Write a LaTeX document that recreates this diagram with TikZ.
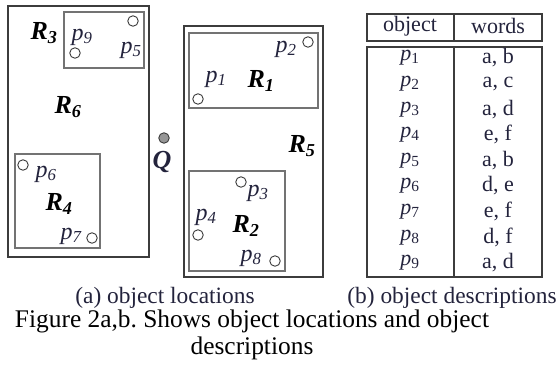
\documentclass[tikz,border=0pt]{standalone}
\usepackage{fontspec}
\setmainfont{Liberation Serif}
\usepackage{tikz}
\frenchspacing
\definecolor{boxink}{RGB}{60,60,60}
\definecolor{innerink}{RGB}{115,115,115}
\definecolor{labink}{RGB}{35,35,60}
\definecolor{qfill}{RGB}{150,150,150}

\tikzset{
  obj/.style={circle, draw=boxink, fill=white, line width=0.9pt, minimum size=10.5pt, inner sep=0pt},
  plab/.style={font=\fontsize{24}{26}\selectfont\itshape, text=labink, inner sep=0pt},
  rlab/.style={font=\fontsize{26}{28}\selectfont\bfseries\itshape, text=black, inner sep=0pt},
  cell/.style={font=\fontsize{22}{24}\selectfont, text=labink, inner sep=0pt},
  outerbox/.style={draw=boxink, line width=1.9pt},
  innerbox/.style={draw=innerink, line width=1.4pt},
}

\begin{document}
\begin{tikzpicture}[x=1pt, y=-1pt]
  \useasboundingbox (0,0) rectangle (559,375);

  % (a) object locations
  \draw[outerbox] (8,6) rectangle (149,257);
  \draw[innerbox] (64,12) rectangle (144,68);
  \draw[innerbox] (15,154) rectangle (100,248);
  \draw[outerbox] (184,26) rectangle (323,277);
  \draw[innerbox] (189,33) rectangle (318,108);
  \draw[innerbox] (189,171) rectangle (285,271);

  \node[obj] (c1) at (198,99) {};
  \node[obj] (c2) at (308,42) {};
  \node[obj] (c3) at (241,182) {};
  \node[obj] (c4) at (198,235) {};
  \node[obj] (c5) at (133,21) {};
  \node[obj] (c6) at (23,165) {};
  \node[obj] (c7) at (92,238) {};
  \node[obj] (c8) at (275,261) {};
  \node[obj] (c9) at (75,53) {};
  \node[obj, fill=qfill] (cq) at (164,138) {};

  \node[plab] (l1) at (216,79) {p\textsubscript{1}};
  \node[plab] (l2) at (286,49) {p\textsubscript{2}};
  \node[plab] (l3) at (258,193) {p\textsubscript{3}};
  \node[plab] (l4) at (206,217) {p\textsubscript{4}};
  \node[plab] (l5) at (131,50) {p\textsubscript{5}};
  \node[plab] (l6) at (46,174) {p\textsubscript{6}};
  \node[plab] (l7) at (71,236) {p\textsubscript{7}};
  \node[plab] (l8) at (251,258) {p\textsubscript{8}};
  \node[plab] (l9) at (82,37) {p\textsubscript{9}};

  \node[rlab] (r1) at (261,81) {R\textsubscript{1}};
  \node[rlab] (r2) at (246,226) {R\textsubscript{2}};
  \node[rlab] (r3) at (44,33) {R\textsubscript{3}};
  \node[rlab] (r4) at (59,204) {R\textsubscript{4}};
  \node[rlab] (r5) at (302,146) {R\textsubscript{5}};
  \node[rlab] (r6) at (68,107) {R\textsubscript{6}};
  \node[rlab, text=labink] (q) at (162,162) {Q};

  % (b) object descriptions
  \draw[outerbox, line width=1.3pt] (367,14) rectangle (542,41);
  \draw[outerbox, line width=1.3pt] (367,47) rectangle (542,277);
  \draw[boxink, line width=1.3pt] (454,14) -- (454,41);
  \draw[boxink, line width=1.3pt] (454,47) -- (454,277);
  \node[cell] (hobj) at (410,26) {object};
  \node[cell] (hwrd) at (498,26) {words};
  \foreach \w [count=\i] in {{a, b},{a, c},{a, d},{e, f},{a, b},{d, e},{e, f},{d, f},{a, d}} {
    \node[cell] (obj\i) at (410,{58+25.6*(\i-1)}) {\textit{p}\textsubscript{\i}};
    \node[cell] (wrd\i) at (498,{58+25.6*(\i-1)}) {\w};
  }

  % captions
  \node[cell, font=\fontsize{23.4}{26}\selectfont] (capa) at (165,298) {(a) object locations};
  \node[cell, font=\fontsize{23.4}{26}\selectfont] (capb) at (452,298) {(b) object descriptions};
  \node[font=\fontsize{25.4}{26.5}\selectfont, align=center, inner sep=0pt] (cap) at (252,335)
    {Figure 2a,b. Shows object locations and object\\descriptions};
\end{tikzpicture}
\end{document}
